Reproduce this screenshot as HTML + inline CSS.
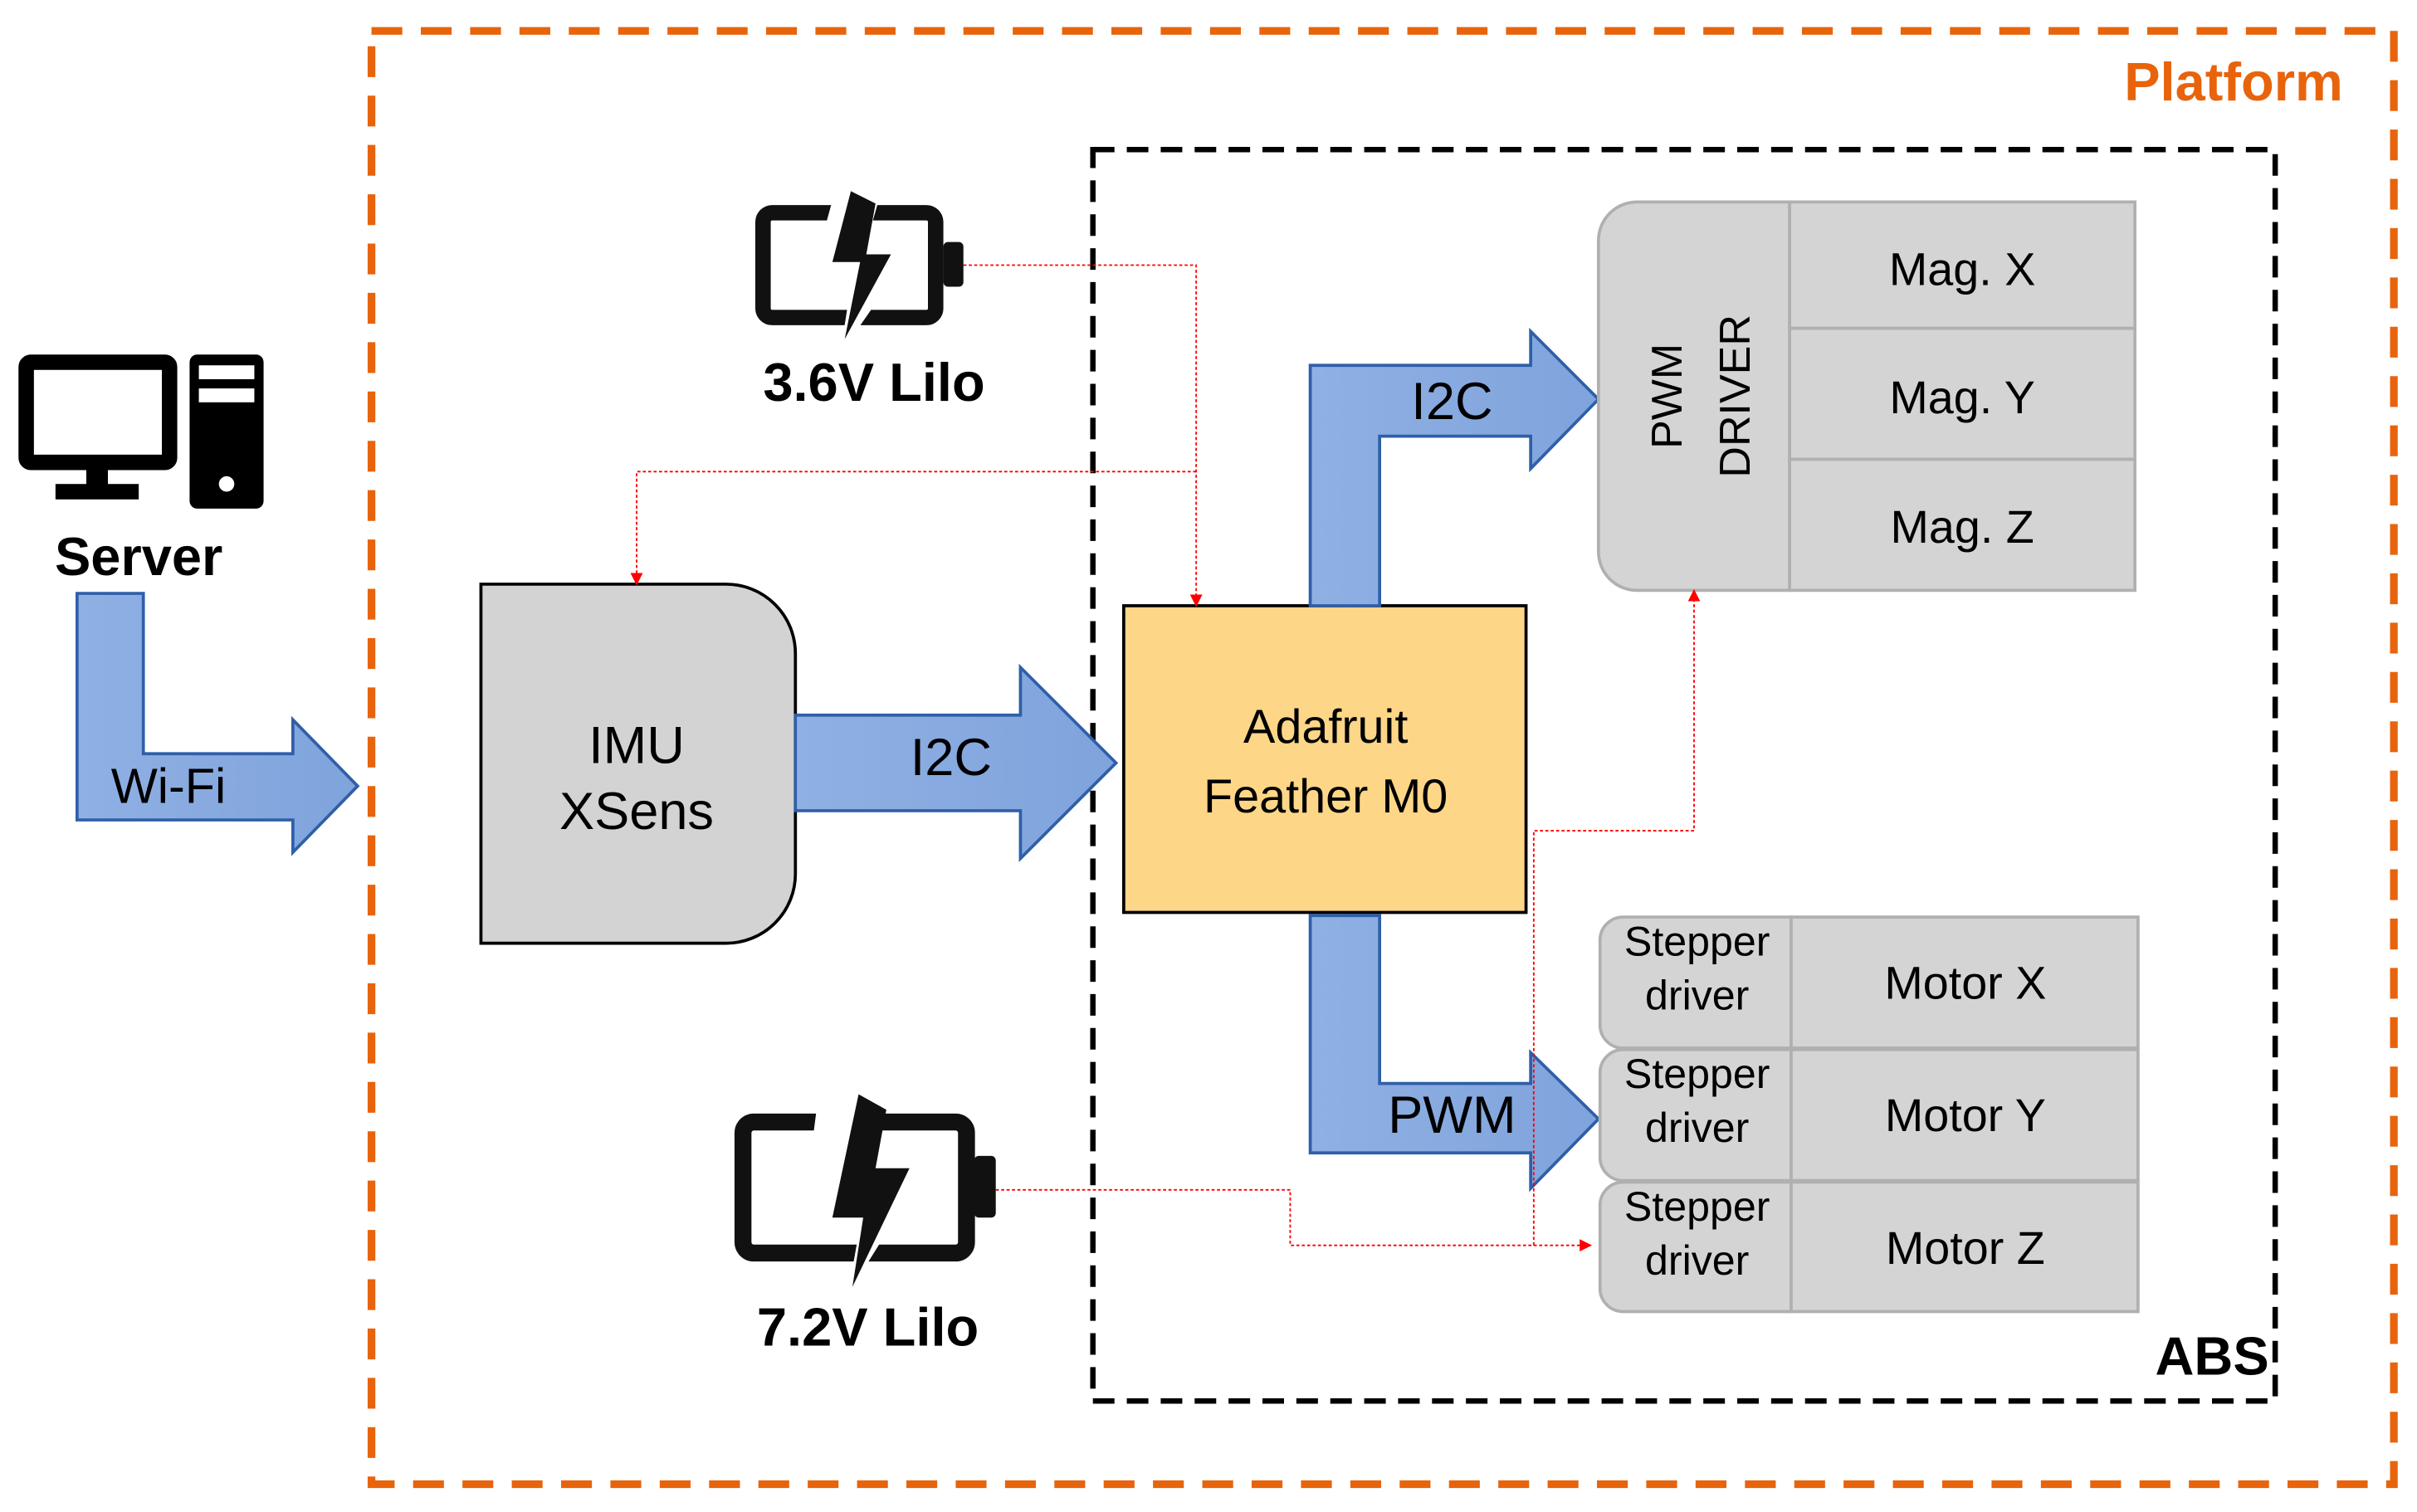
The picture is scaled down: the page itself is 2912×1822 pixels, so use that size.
<!DOCTYPE html>
<html><head><meta charset="utf-8"><style>
html,body{margin:0;padding:0;background:#fff}
svg{display:block}
text{font-family:"Liberation Sans",sans-serif}
</style></head><body>
<svg width="2912" height="1822" viewBox="0 0 1568 981" xmlns="http://www.w3.org/2000/svg">
<defs>
<linearGradient id="bl" x1="0" y1="0" x2="1" y2="0"><stop offset="0" stop-color="#8fb0e3"/><stop offset="1" stop-color="#7fa3dc"/></linearGradient>
<marker id="ar" viewBox="0 0 10 10" refX="9" refY="5" markerWidth="8" markerHeight="8" markerUnits="userSpaceOnUse" orient="auto"><path d="M0,0L10,5L0,10z" fill="#ff0000"/></marker>
</defs>
<rect width="1568" height="981" fill="#fff"/>
<rect x="241" y="20" width="1312" height="943" fill="none" stroke="#e8640c" stroke-width="5" stroke-dasharray="20,12"/>
<text x="1520" y="65" text-anchor="end" font-size="35" font-weight="bold" fill="#e8640c">Platform</text>
<rect x="709" y="97" width="767" height="812" fill="none" stroke="#000" stroke-width="3.5" stroke-dasharray="14,8"/>
<text x="1472" y="892" text-anchor="end" font-size="35" font-weight="bold">ABS</text>

<rect x="17" y="235" width="93" height="65" fill="none" stroke="#000" stroke-width="10" rx="3"/>
<rect x="56" y="302" width="14" height="14" fill="#000"/>
<rect x="36" y="314" width="54" height="10" fill="#000"/>
<rect x="123" y="230" width="48" height="100" rx="5" fill="#000"/>
<rect x="129" y="237" width="36" height="9" fill="#fff"/>
<rect x="129" y="252" width="36" height="9" fill="#fff"/>
<circle cx="147" cy="314" r="5" fill="#fff"/>
<text x="90" y="373" text-anchor="middle" font-size="35" font-weight="bold">Server</text>

<path d="M50,385H93V489H190V467L232,510L190,553V532H50Z" fill="url(#bl)" stroke="#2f5fa8" stroke-width="2"/>
<text x="72" y="521" font-size="32">Wi-Fi</text>

<rect x="495" y="138" width="112" height="68" rx="6" fill="none" stroke="#111" stroke-width="10"/>
<rect x="612" y="157" width="13" height="29" rx="3" fill="#111"/>
<polygon points="540,130 570,130 560,165 590,165 545,230 552,185 525,185" fill="#fff"/>
<polygon points="552,124 540,170 558,170 548,220 578,165 562,165 568,132" fill="#111"/>
<text x="567" y="260" text-anchor="middle" font-size="35" font-weight="bold">3.6V Lilo</text>

<rect x="482" y="728" width="145" height="85" rx="7" fill="none" stroke="#111" stroke-width="11"/>
<rect x="632" y="750" width="14" height="40" rx="3" fill="#111"/>
<polygon points="530,718 575,718 565,760 600,760 550,840 558,795 520,795" fill="#fff"/>
<polygon points="557,710 540,790 560,790 553,835 590,758 568,758 575,720" fill="#111"/>
<text x="563" y="873" text-anchor="middle" font-size="35" font-weight="bold">7.2V Lilo</text>

<path d="M312,379H471A45,45 0 0 1 516,424V567A45,45 0 0 1 471,612H312Z" fill="#d3d3d3" stroke="#000" stroke-width="2"/>
<text x="413" y="495" text-anchor="middle" font-size="34">IMU</text>
<text x="413" y="538" text-anchor="middle" font-size="34">XSens</text>

<path d="M516,464H662V433L724,495L662,557V526H516Z" fill="url(#bl)" stroke="#2f5fa8" stroke-width="2"/>
<text x="617" y="503" text-anchor="middle" font-size="34">I2C</text>

<rect x="729" y="393" width="261" height="199" fill="#fdd688" stroke="#000" stroke-width="2"/>
<text x="860" y="482" text-anchor="middle" font-size="31">Adafruit</text>
<text x="860" y="527" text-anchor="middle" font-size="31">Feather M0</text>

<path d="M850,393V237H993V215L1037,259L993,304V283H895V393Z" fill="url(#bl)" stroke="#2f5fa8" stroke-width="2"/>
<text x="942" y="272" text-anchor="middle" font-size="34">I2C</text>

<path d="M850,594H895V703H993V683L1037,726L993,771V748H850Z" fill="url(#bl)" stroke="#2f5fa8" stroke-width="2"/>
<text x="942" y="735" text-anchor="middle" font-size="34">PWM</text>

<path d="M1062,131H1161V383H1062A25,25 0 0 1 1037,358V156A25,25 0 0 1 1062,131Z" fill="#d4d4d4" stroke="#b0b0b0" stroke-width="2"/>
<rect x="1161" y="131" width="224" height="82" fill="#d4d4d4" stroke="#b0b0b0" stroke-width="2"/>
<rect x="1161" y="213" width="224" height="85" fill="#d4d4d4" stroke="#b0b0b0" stroke-width="2"/>
<rect x="1161" y="298" width="224" height="85" fill="#d4d4d4" stroke="#b0b0b0" stroke-width="2"/>
<text transform="translate(1091,257) rotate(-90)" text-anchor="middle" font-size="28">PWM</text>
<text transform="translate(1135,257) rotate(-90)" text-anchor="middle" font-size="28">DRIVER</text>
<text x="1273" y="185" text-anchor="middle" font-size="30">Mag. X</text>
<text x="1273" y="268" text-anchor="middle" font-size="30">Mag. Y</text>
<text x="1273" y="352" text-anchor="middle" font-size="30">Mag. Z</text>

<g fill="#d4d4d4" stroke="#b0b0b0" stroke-width="2">
<path d="M1053,595H1162V680H1053A15,15 0 0 1 1038,665V610A15,15 0 0 1 1053,595Z"/>
<rect x="1162" y="595" width="225" height="85"/>
<path d="M1053,681H1162V766H1053A15,15 0 0 1 1038,751V696A15,15 0 0 1 1053,681Z"/>
<rect x="1162" y="681" width="225" height="85"/>
<path d="M1053,767H1162V851H1053A15,15 0 0 1 1038,836V782A15,15 0 0 1 1053,767Z"/>
<rect x="1162" y="767" width="225" height="84"/>
</g>
<g font-size="27" text-anchor="middle">
<text x="1101" y="620">Stepper</text><text x="1101" y="655">driver</text>
<text x="1101" y="706">Stepper</text><text x="1101" y="741">driver</text>
<text x="1101" y="792">Stepper</text><text x="1101" y="827">driver</text>
</g>
<g font-size="30" text-anchor="middle">
<text x="1275" y="648">Motor X</text>
<text x="1275" y="734">Motor Y</text>
<text x="1275" y="820">Motor Z</text>
</g>

<g fill="none" stroke="#ff0000" stroke-width="1" stroke-dasharray="2,1.5">
<path d="M625,172H776V393" marker-end="url(#ar)"/>
<path d="M776,306H413V379" marker-end="url(#ar)"/>
<path d="M646,772H837V808H1032" marker-end="url(#ar)"/>
<path d="M995,808V539H1099V383" marker-end="url(#ar)"/>
</g>
</svg>
</body></html>
